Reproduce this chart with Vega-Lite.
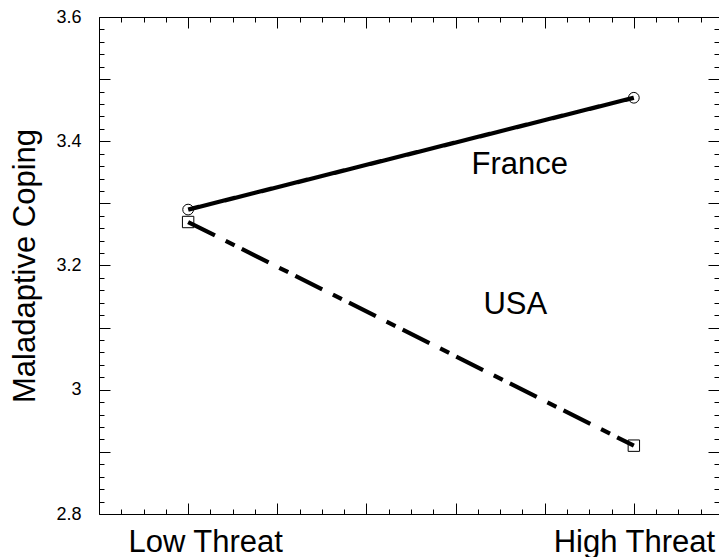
{
  "$schema": "https://vega.github.io/schema/vega-lite/v6.json",
  "width": 620,
  "height": 497,
  "autosize": {"type": "none"},
  "padding": {"left": 99, "top": 17, "right": 0, "bottom": 43},
  "background": "white",
  "config": {
    "view": {"stroke": null},
    "font": "Liberation Sans",
    "axis": {"grid": false, "domainColor": "black", "domainWidth": 1, "tickColor": "black", "tickWidth": 1, "labelColor": "black", "titleColor": "black", "labelFont": "Liberation Sans", "titleFont": "Liberation Sans"}
  },
  "datasets": {
    "main": [
      {"country": "France", "threat": "Low Threat", "coping": 3.29},
      {"country": "France", "threat": "High Threat", "coping": 3.47},
      {"country": "USA", "threat": "Low Threat", "coping": 3.27},
      {"country": "USA", "threat": "High Threat", "coping": 2.91}
    ],
    "notes": [
      {"label": "France", "xpos": 4.72, "ypos": 3.362},
      {"label": "USA", "xpos": 4.67, "ypos": 3.136}
    ]
  },
  "layer": [
    {
      "data": {"name": "main"},
      "encoding": {
        "x": {"field": "threat", "type": "nominal", "scale": {"type": "point", "domain": ["Low Threat", "High Threat"], "padding": 0.1955, "align": 0.5114}, "axis": null},
        "y": {"field": "coping", "type": "quantitative", "scale": {"domain": [2.8, 3.6], "nice": false, "zero": false}, "axis": null}
      },
      "layer": [
        {
          "mark": {"type": "line", "color": "black", "strokeWidth": 4.2, "strokeCap": "butt"},
          "encoding": {
            "detail": {"field": "country", "type": "nominal"},
            "strokeDash": {"field": "country", "type": "nominal", "scale": {"domain": ["France", "USA"], "range": [[1, 0], [30, 12, 10, 8]]}, "legend": null}
          }
        },
        {
          "mark": {"type": "point", "filled": false, "color": "black", "strokeWidth": 1, "opacity": 1},
          "encoding": {
            "shape": {"field": "country", "type": "nominal", "scale": {"domain": ["France", "USA"], "range": ["circle", "square"]}, "legend": null},
            "size": {"field": "country", "type": "nominal", "scale": {"domain": ["France", "USA"], "range": [115, 130]}, "legend": null}
          }
        }
      ]
    },
    {
      "data": {"name": "notes"},
      "mark": {"type": "text", "fontSize": 31, "font": "Liberation Sans", "color": "black", "align": "center", "baseline": "middle"},
      "encoding": {
        "text": {"field": "label"},
        "x": {"field": "xpos", "type": "quantitative", "scale": {"domain": [0, 6.955], "nice": false, "zero": false},
          "axis": {"orient": "bottom", "title": null,
            "values": [0, 0.25, 0.5, 0.75, 1, 1.25, 1.5, 1.75, 2, 2.25, 2.5, 2.75, 3, 3.25, 3.5, 3.75, 4, 4.25, 4.5, 4.75, 5, 5.25, 5.5, 5.75, 6, 6.25, 6.5, 6.75],
            "tickSize": {"condition": {"test": "datum.value % 1 == 0", "value": -11}, "value": -5},
            "labelExpr": "datum.value == 1 ? 'Low Threat' : datum.value == 6 ? 'High Threat' : ''",
            "labelFontSize": 31, "labelPadding": 24, "labelOverlap": false, "labelFlush": false, "labelBaseline": "top",
            "labelOffset": {"condition": {"test": "datum.value == 1", "value": 17}, "value": 0}}},
        "y": {"field": "ypos", "type": "quantitative", "scale": {"domain": [2.8, 3.6], "nice": false, "zero": false},
          "axis": {"orient": "left", "title": "Maladaptive Coping", "titleFontSize": 31, "titleFontWeight": "normal", "titlePadding": 14,
            "tickCount": 40,
            "tickSize": {"condition": {"test": "abs(datum.value*10 - round(datum.value*10)) < 0.000001", "value": -11}, "value": -5},
            "labelExpr": "abs(datum.value*5 - round(datum.value*5)) < 0.000001 ? format(datum.value, '~g') : ''",
            "labelFontSize": 18, "labelPadding": 29, "labelOverlap": false, "labelFlush": false}}
      }
    },
    {
      "data": {"name": "notes"},
      "mark": {"type": "text", "opacity": 0},
      "encoding": {
        "text": {"field": "label"},
        "x": {"field": "xpos", "type": "quantitative", "scale": {"domain": [0, 6.955], "nice": false, "zero": false},
          "axis": {"orient": "top", "title": null, "labels": false,
            "values": [0, 0.25, 0.5, 0.75, 1, 1.25, 1.5, 1.75, 2, 2.25, 2.5, 2.75, 3, 3.25, 3.5, 3.75, 4, 4.25, 4.5, 4.75, 5, 5.25, 5.5, 5.75, 6, 6.25, 6.5, 6.75],
            "tickSize": {"condition": {"test": "datum.value % 1 == 0", "value": -11}, "value": -5}}},
        "y": {"field": "ypos", "type": "quantitative", "scale": {"domain": [2.8, 3.6], "nice": false, "zero": false},
          "axis": {"orient": "right", "title": null, "labels": false, "domain": false, "tickCount": 40,
            "tickSize": {"condition": {"test": "abs(datum.value*10 - round(datum.value*10)) < 0.000001", "value": -11}, "value": -5}}}
      }
    }
  ],
  "resolve": {"scale": {"x": "independent"}, "axis": {"x": "independent", "y": "independent"}}
}
